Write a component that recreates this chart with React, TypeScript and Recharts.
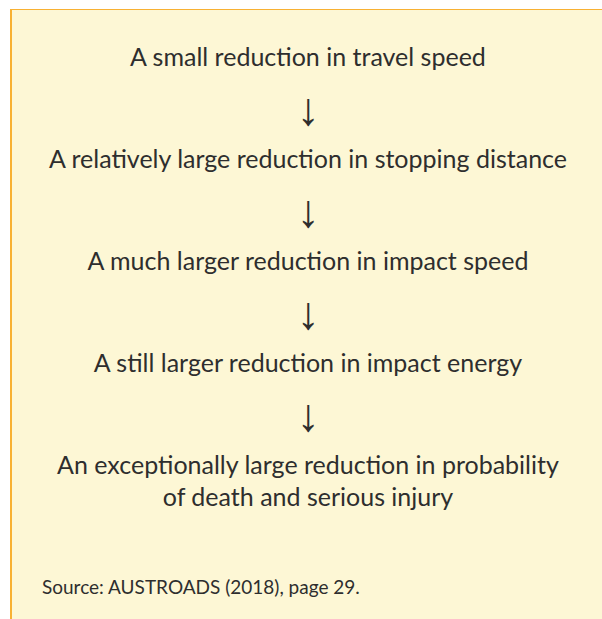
import React from "react";
import { ResponsiveContainer, Scatter, ScatterChart, XAxis, YAxis } from "recharts";

const steps = [
  ["A small reduction in travel speed"],
  ["A relatively large reduction in stopping distance"],
  ["A much larger reduction in impact speed"],
  ["A still larger reduction in impact energy"],
  ["An exceptionally large reduction in probability", "of death and serious injury"],
];
const arrowLabel = "↓";
const sourceNote = "Source: AUSTROADS (2018), page 29.";

// rows alternate: step, arrow, step, arrow ...
const rows = steps.flatMap((lines, i) => {
  const out = [{ x: 0.5, row: i * 2, lines, kind: "step" }];
  if (i < steps.length - 1) out.push({ x: 0.5, row: i * 2 + 1, lines: [arrowLabel], kind: "arrow" });
  return out;
});

const W = 592;
const H = 610;
const ROW_GAP = 51;
const FIRST_ROW = 46;

function RowShape(props: any) {
  const { cx, cy, payload } = props;
  if (payload.kind === "arrow") {
    return (
      <text x={cx} y={cy + 2} textAnchor="middle" dominantBaseline="central" fontFamily="Liberation Sans" fontSize={46} fill="#2e2e2e">
        {payload.lines[0]}
      </text>
    );
  }
  return (
    <text x={cx} y={cy} textAnchor="middle" dominantBaseline="central" fontFamily="Lato" fontSize={25} fill="#2e2e2e">
      {payload.lines.map((l: string, i: number) => (
        <tspan key={i} x={cx} dy={i === 0 ? 0 : 32}>
          {l}
        </tspan>
      ))}
    </text>
  );
}

export default function App() {
  return (
    <div
      style={{
        position: "absolute",
        left: 10,
        top: 9,
        width: W,
        height: H,
        background: "#fdf7d5",
        borderLeft: "2px solid #f8b133",
        borderTop: "1px solid #f8b133",
      }}
    >
      <div style={{ width: W, height: H }}>
        <ResponsiveContainer width="100%" height="100%">
          <ScatterChart margin={{ top: 0, right: 0, bottom: 0, left: 0 }}>
            <XAxis type="number" dataKey="x" domain={[0, 1]} hide />
            <YAxis
              type="number"
              dataKey="row"
              reversed
              hide
              domain={[-FIRST_ROW / ROW_GAP, (H - FIRST_ROW) / ROW_GAP]}
              allowDataOverflow
            />
            <Scatter data={rows} shape={<RowShape />} isAnimationActive={false} />
          </ScatterChart>
        </ResponsiveContainer>
      </div>
      <div
        style={{
          position: "absolute",
          left: 30,
          top: 565,
          fontFamily: "Lato",
          fontSize: 19,
          lineHeight: "24px",
          color: "#2e2e2e",
        }}
      >
        {sourceNote}
      </div>
    </div>
  );
}
